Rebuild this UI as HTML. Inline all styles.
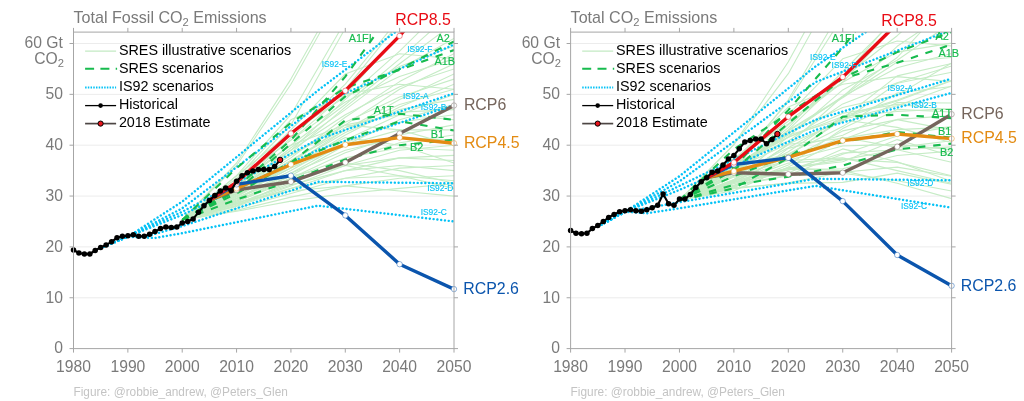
<!DOCTYPE html>
<html><head><meta charset="utf-8"><title>CO2 Emissions scenarios</title>
<style>
html,body{margin:0;padding:0;background:#fff;}
body{width:1024px;height:401px;overflow:hidden;font-family:"Liberation Sans",sans-serif;}
svg{display:block;will-change:transform;font-family:"Liberation Sans",sans-serif;}
</style></head><body>
<svg width="1024" height="401" viewBox="0 0 1024 401">
<rect width="1024" height="401" fill="#fff"/>
<clipPath id="clip0"><rect x="73.50" y="32.10" width="380.50" height="316.50"/></clipPath>
<line x1="73.5" x2="454.0" y1="297.8" y2="297.8" stroke="#ececec" stroke-width="1"/>
<line x1="73.5" x2="454.0" y1="246.9" y2="246.9" stroke="#ececec" stroke-width="1"/>
<line x1="73.5" x2="454.0" y1="196.1" y2="196.1" stroke="#ececec" stroke-width="1"/>
<line x1="73.5" x2="454.0" y1="145.2" y2="145.2" stroke="#ececec" stroke-width="1"/>
<line x1="73.5" x2="454.0" y1="94.4" y2="94.4" stroke="#ececec" stroke-width="1"/>
<line x1="73.5" x2="454.0" y1="43.5" y2="43.5" stroke="#ececec" stroke-width="1"/>
<g clip-path="url(#clip0)" fill="none" stroke-linejoin="round">
<path d="M182.2 219.9 L236.6 163.0 L290.9 79.1 L345.3 -17.5 L399.6 -98.9 L454.0 -159.9" stroke="#c6ecc6" stroke-width="1.1"/>
<path d="M182.2 219.9 L236.6 165.5 L290.9 84.2 L345.3 -12.4 L399.6 -109.0 L454.0 -185.3" stroke="#c6ecc6" stroke-width="1.1"/>
<path d="M182.2 219.9 L236.6 175.7 L290.9 114.7 L345.3 21.1 L399.6 -83.6 L454.0 -159.9" stroke="#c6ecc6" stroke-width="1.1"/>
<path d="M182.2 219.9 L236.6 180.8 L290.9 124.9 L345.3 28.2 L399.6 -58.2 L454.0 -134.5" stroke="#c6ecc6" stroke-width="1.1"/>
<path d="M182.2 219.9 L236.6 185.9 L290.9 135.0 L345.3 84.2 L399.6 18.1 L454.0 -48.0" stroke="#c6ecc6" stroke-width="1.1"/>
<path d="M182.2 219.9 L236.6 188.4 L290.9 137.6 L345.3 89.3 L399.6 22.1 L454.0 -37.9" stroke="#c6ecc6" stroke-width="1.1"/>
<path d="M182.2 219.9 L236.6 180.8 L290.9 140.1 L345.3 94.4 L399.6 35.9 L454.0 -7.3" stroke="#c6ecc6" stroke-width="1.1"/>
<path d="M182.2 219.9 L236.6 191.0 L290.9 150.3 L345.3 99.4 L399.6 51.1 L454.0 -2.3" stroke="#c6ecc6" stroke-width="1.1"/>
<path d="M182.2 219.9 L236.6 183.3 L290.9 145.2 L345.3 104.5 L399.6 58.8 L454.0 10.4" stroke="#c6ecc6" stroke-width="1.1"/>
<path d="M182.2 219.9 L236.6 193.5 L290.9 152.8 L345.3 107.1 L399.6 63.8 L454.0 23.2" stroke="#c6ecc6" stroke-width="1.1"/>
<path d="M182.2 219.9 L236.6 189.9 L290.9 147.7 L345.3 109.6 L399.6 68.9 L454.0 38.4" stroke="#c6ecc6" stroke-width="1.1"/>
<path d="M182.2 219.9 L236.6 175.7 L290.9 132.5 L345.3 96.9 L399.6 66.4 L454.0 46.0" stroke="#c6ecc6" stroke-width="1.1"/>
<path d="M182.2 219.9 L236.6 192.0 L290.9 157.9 L345.3 117.2 L399.6 81.6 L454.0 53.7" stroke="#c6ecc6" stroke-width="1.1"/>
<path d="M182.2 219.9 L236.6 180.8 L290.9 140.1 L345.3 102.0 L399.6 76.6 L454.0 58.8" stroke="#c6ecc6" stroke-width="1.1"/>
<path d="M182.2 219.9 L236.6 196.1 L290.9 163.0 L345.3 124.9 L399.6 89.3 L454.0 63.8" stroke="#c6ecc6" stroke-width="1.1"/>
<path d="M182.2 219.9 L236.6 185.9 L290.9 150.3 L345.3 114.7 L399.6 86.7 L454.0 68.9" stroke="#c6ecc6" stroke-width="1.1"/>
<path d="M182.2 219.9 L236.6 197.1 L290.9 165.5 L345.3 129.9 L399.6 99.4 L454.0 74.0" stroke="#c6ecc6" stroke-width="1.1"/>
<path d="M182.2 219.9 L236.6 188.4 L290.9 155.4 L345.3 122.3 L399.6 96.9 L454.0 79.1" stroke="#c6ecc6" stroke-width="1.1"/>
<path d="M182.2 219.9 L236.6 195.0 L290.9 168.1 L345.3 135.0 L399.6 107.1 L454.0 84.2" stroke="#c6ecc6" stroke-width="1.1"/>
<path d="M182.2 219.9 L236.6 191.0 L290.9 160.5 L345.3 129.9 L399.6 104.5 L454.0 89.3" stroke="#c6ecc6" stroke-width="1.1"/>
<path d="M182.2 219.9 L236.6 198.6 L290.9 170.6 L345.3 140.1 L399.6 114.7 L454.0 94.4" stroke="#c6ecc6" stroke-width="1.1"/>
<path d="M182.2 219.9 L236.6 193.0 L290.9 164.5 L345.3 132.5 L399.6 109.6 L454.0 99.4" stroke="#c6ecc6" stroke-width="1.1"/>
<path d="M182.2 219.9 L236.6 201.1 L290.9 175.7 L345.3 145.2 L399.6 119.8 L454.0 104.5" stroke="#c6ecc6" stroke-width="1.1"/>
<path d="M182.2 219.9 L236.6 194.0 L290.9 160.5 L345.3 127.4 L399.6 112.1 L454.0 109.6" stroke="#c6ecc6" stroke-width="1.1"/>
<path d="M182.2 219.9 L236.6 199.1 L290.9 173.2 L345.3 142.7 L399.6 122.3 L454.0 114.7" stroke="#c6ecc6" stroke-width="1.1"/>
<path d="M182.2 219.9 L236.6 188.9 L290.9 155.4 L345.3 124.9 L399.6 114.7 L454.0 119.8" stroke="#c6ecc6" stroke-width="1.1"/>
<path d="M182.2 219.9 L236.6 202.2 L290.9 178.3 L345.3 152.8 L399.6 135.0 L454.0 124.9" stroke="#c6ecc6" stroke-width="1.1"/>
<path d="M182.2 219.9 L236.6 196.1 L290.9 168.1 L345.3 145.2 L399.6 129.9 L454.0 129.9" stroke="#c6ecc6" stroke-width="1.1"/>
<path d="M182.2 219.9 L236.6 203.7 L290.9 183.3 L345.3 160.5 L399.6 142.7 L454.0 135.0" stroke="#c6ecc6" stroke-width="1.1"/>
<path d="M182.2 219.9 L236.6 198.1 L290.9 173.2 L345.3 150.3 L399.6 137.6 L454.0 140.1" stroke="#c6ecc6" stroke-width="1.1"/>
<path d="M182.2 219.9 L236.6 205.2 L290.9 185.9 L345.3 165.5 L399.6 150.3 L454.0 145.2" stroke="#c6ecc6" stroke-width="1.1"/>
<path d="M182.2 219.9 L236.6 200.1 L290.9 178.3 L345.3 157.9 L399.6 147.7 L454.0 150.3" stroke="#c6ecc6" stroke-width="1.1"/>
<path d="M182.2 219.9 L236.6 206.2 L290.9 188.4 L345.3 170.6 L399.6 157.9 L454.0 155.4" stroke="#c6ecc6" stroke-width="1.1"/>
<path d="M182.2 219.9 L236.6 201.1 L290.9 180.8 L345.3 165.5 L399.6 157.9 L454.0 160.5" stroke="#c6ecc6" stroke-width="1.1"/>
<path d="M182.2 219.9 L236.6 208.3 L290.9 193.5 L345.3 178.3 L399.6 168.1 L454.0 165.5" stroke="#c6ecc6" stroke-width="1.1"/>
<path d="M182.2 219.9 L236.6 203.2 L290.9 184.9 L345.3 170.6 L399.6 165.5 L454.0 170.6" stroke="#c6ecc6" stroke-width="1.1"/>
<path d="M182.2 219.9 L236.6 210.3 L290.9 197.1 L345.3 185.9 L399.6 178.3 L454.0 175.7" stroke="#c6ecc6" stroke-width="1.1"/>
<path d="M182.2 219.9 L236.6 204.2 L290.9 188.4 L345.3 178.3 L399.6 175.7 L454.0 180.8" stroke="#c6ecc6" stroke-width="1.1"/>
<path d="M182.2 219.9 L236.6 211.3 L290.9 201.1 L345.3 193.5 L399.6 188.4 L454.0 183.8" stroke="#c6ecc6" stroke-width="1.1"/>
<path d="M182.2 219.9 L236.6 206.2 L290.9 180.8 L345.3 163.0 L399.6 170.6 L454.0 183.3" stroke="#c6ecc6" stroke-width="1.1"/>
<path d="M182.2 219.9 L236.6 198.6 L290.9 175.7 L345.3 165.5 L399.6 175.7 L454.0 188.4" stroke="#c6ecc6" stroke-width="1.1"/>
<path d="M182.2 219.9 L236.6 202.2 L290.9 191.0 L345.3 185.9 L399.6 191.0 L454.0 196.1" stroke="#c6ecc6" stroke-width="1.1"/>
<path d="M182.2 219.9 L236.6 193.5 L290.9 165.5 L345.3 137.6 L399.6 145.2 L454.0 163.0" stroke="#c6ecc6" stroke-width="1.1"/>
<path d="M182.2 219.9 L236.6 185.9 L290.9 145.2 L345.3 124.9 L399.6 129.9 L454.0 145.2" stroke="#c6ecc6" stroke-width="1.1"/>
<path d="M182.2 219.9 L236.6 178.3 L290.9 119.8 L345.3 94.4 L399.6 84.2 L454.0 89.3" stroke="#c6ecc6" stroke-width="1.1"/>
<path d="M182.2 219.9 L236.6 183.3 L290.9 129.9 L345.3 74.0 L399.6 53.7 L454.0 58.8" stroke="#c6ecc6" stroke-width="1.1"/>
<path d="M100.7 247.9 L127.9 236.7 L182.2 201.6 L318.1 90.3 L454.0 -12.4" stroke="#04c2f6" stroke-width="2.45" stroke-linecap="round" stroke-dasharray="0.01 3.8"/>
<path d="M100.7 247.9 L127.9 236.7 L182.2 208.3 L318.1 105.5 L454.0 44.5" stroke="#04c2f6" stroke-width="2.45" stroke-linecap="round" stroke-dasharray="0.01 3.8"/>
<path d="M100.7 247.9 L127.9 236.7 L182.2 211.8 L318.1 139.1 L454.0 93.3" stroke="#04c2f6" stroke-width="2.45" stroke-linecap="round" stroke-dasharray="0.01 3.8"/>
<path d="M100.7 247.9 L127.9 236.7 L182.2 214.9 L318.1 149.8 L454.0 105.0" stroke="#04c2f6" stroke-width="2.45" stroke-linecap="round" stroke-dasharray="0.01 3.8"/>
<path d="M100.7 247.9 L127.9 236.7 L146.9 236.2 L182.2 226.1 L318.1 181.8 L454.0 183.3" stroke="#04c2f6" stroke-width="2.45" stroke-linecap="round" stroke-dasharray="0.01 3.8"/>
<path d="M100.7 247.9 L127.9 236.7 L155.0 238.0 L182.2 233.2 L318.1 205.7 L454.0 221.5" stroke="#04c2f6" stroke-width="2.45" stroke-linecap="round" stroke-dasharray="0.01 3.8"/>
<path d="M182.2 219.9 L236.6 187.4 L290.9 140.1 L345.3 76.6 L399.6 0.8 L454.0 -81.6" stroke="#17bb4e" stroke-width="2.1" stroke-dasharray="7.4 7.9"/>
<path d="M182.2 219.9 L236.6 191.0 L290.9 143.7 L345.3 96.4 L399.6 68.9 L454.0 41.5" stroke="#17bb4e" stroke-width="2.1" stroke-dasharray="7.4 7.9"/>
<path d="M182.2 219.9 L236.6 168.1 L290.9 122.8 L345.3 87.7 L399.6 69.9 L454.0 50.1" stroke="#17bb4e" stroke-width="2.1" stroke-dasharray="7.4 7.9"/>
<path d="M182.2 219.9 L236.6 193.5 L290.9 162.5 L345.3 120.3 L399.6 113.7 L454.0 119.8" stroke="#17bb4e" stroke-width="2.1" stroke-dasharray="7.4 7.9"/>
<path d="M182.2 219.9 L236.6 190.5 L290.9 162.5 L345.3 140.1 L399.6 121.3 L454.0 130.5" stroke="#17bb4e" stroke-width="2.1" stroke-dasharray="7.4 7.9"/>
<path d="M182.2 219.9 L236.6 199.6 L290.9 180.8 L345.3 159.4 L399.6 145.2 L454.0 139.6" stroke="#17bb4e" stroke-width="2.1" stroke-dasharray="7.4 7.9"/>
<path d="M209.4 200.1 L236.6 189.9 L290.9 181.8 L345.3 162.5 L399.6 133.5 L454.0 105.5" stroke="#75655c" stroke-width="3.4"/>
<path d="M209.4 200.1 L236.6 188.4 L290.9 164.5 L345.3 144.7 L399.6 137.6 L454.0 143.2" stroke="#e38b12" stroke-width="3.4"/>
<path d="M209.4 200.1 L236.6 184.4 L290.9 175.7 L345.3 215.4 L399.6 264.2 L454.0 289.1" stroke="#0b55ad" stroke-width="3.4"/>
<path d="M209.4 200.1 L236.6 182.3 L290.9 133.5 L345.3 90.8 L399.6 35.9 L454.0 -27.7" stroke="#e90c15" stroke-width="3.4"/>
</g>
<circle cx="236.6" cy="189.9" r="2.7" fill="#fff" stroke="#75655c" stroke-opacity="0.75" stroke-width="0.6"/>
<circle cx="290.9" cy="181.8" r="2.7" fill="#fff" stroke="#75655c" stroke-opacity="0.75" stroke-width="0.6"/>
<circle cx="345.3" cy="162.5" r="2.7" fill="#fff" stroke="#75655c" stroke-opacity="0.75" stroke-width="0.6"/>
<circle cx="399.6" cy="133.5" r="2.7" fill="#fff" stroke="#75655c" stroke-opacity="0.75" stroke-width="0.6"/>
<circle cx="454.0" cy="105.5" r="2.7" fill="#fff" stroke="#75655c" stroke-opacity="0.75" stroke-width="0.6"/>
<circle cx="236.6" cy="188.4" r="2.7" fill="#fff" stroke="#e38b12" stroke-opacity="0.75" stroke-width="0.6"/>
<circle cx="290.9" cy="164.5" r="2.7" fill="#fff" stroke="#e38b12" stroke-opacity="0.75" stroke-width="0.6"/>
<circle cx="345.3" cy="144.7" r="2.7" fill="#fff" stroke="#e38b12" stroke-opacity="0.75" stroke-width="0.6"/>
<circle cx="399.6" cy="137.6" r="2.7" fill="#fff" stroke="#e38b12" stroke-opacity="0.75" stroke-width="0.6"/>
<circle cx="454.0" cy="143.2" r="2.7" fill="#fff" stroke="#e38b12" stroke-opacity="0.75" stroke-width="0.6"/>
<circle cx="236.6" cy="184.4" r="2.7" fill="#fff" stroke="#0b55ad" stroke-opacity="0.75" stroke-width="0.6"/>
<circle cx="290.9" cy="175.7" r="2.7" fill="#fff" stroke="#0b55ad" stroke-opacity="0.75" stroke-width="0.6"/>
<circle cx="345.3" cy="215.4" r="2.7" fill="#fff" stroke="#0b55ad" stroke-opacity="0.75" stroke-width="0.6"/>
<circle cx="399.6" cy="264.2" r="2.7" fill="#fff" stroke="#0b55ad" stroke-opacity="0.75" stroke-width="0.6"/>
<circle cx="454.0" cy="289.1" r="2.7" fill="#fff" stroke="#0b55ad" stroke-opacity="0.75" stroke-width="0.6"/>
<circle cx="236.6" cy="182.3" r="2.7" fill="#fff" stroke="#e90c15" stroke-opacity="0.75" stroke-width="0.6"/>
<circle cx="290.9" cy="133.5" r="2.7" fill="#fff" stroke="#e90c15" stroke-opacity="0.75" stroke-width="0.6"/>
<circle cx="345.3" cy="90.8" r="2.7" fill="#fff" stroke="#e90c15" stroke-opacity="0.75" stroke-width="0.6"/>
<circle cx="399.6" cy="35.9" r="2.7" fill="#fff" stroke="#e90c15" stroke-opacity="0.75" stroke-width="0.6"/>
<path d="M73.5 250.0 L78.9 253.0 L84.4 254.0 L89.8 254.0 L95.2 250.5 L100.7 247.4 L106.1 244.9 L111.6 241.8 L117.0 237.7 L122.4 236.2 L127.9 235.7 L133.3 234.7 L138.7 236.2 L144.2 236.2 L149.6 234.2 L155.0 231.6 L160.5 228.6 L165.9 227.1 L171.3 227.6 L176.8 227.1 L182.2 223.0 L187.7 221.5 L193.1 218.9 L198.5 212.3 L204.0 205.7 L209.4 200.6 L214.8 195.5 L220.3 191.0 L225.7 187.9 L231.1 190.5 L236.6 181.3 L242.0 175.7 L247.4 172.7 L252.9 171.1 L258.3 169.6 L263.8 169.6 L269.2 169.6 L274.6 166.6 L280.1 159.9" stroke="#000" stroke-width="2.1" fill="none" stroke-linejoin="round"/>
<circle cx="73.5" cy="250.0" r="2.75" fill="#000"/>
<circle cx="78.9" cy="253.0" r="2.75" fill="#000"/>
<circle cx="84.4" cy="254.0" r="2.75" fill="#000"/>
<circle cx="89.8" cy="254.0" r="2.75" fill="#000"/>
<circle cx="95.2" cy="250.5" r="2.75" fill="#000"/>
<circle cx="100.7" cy="247.4" r="2.75" fill="#000"/>
<circle cx="106.1" cy="244.9" r="2.75" fill="#000"/>
<circle cx="111.6" cy="241.8" r="2.75" fill="#000"/>
<circle cx="117.0" cy="237.7" r="2.75" fill="#000"/>
<circle cx="122.4" cy="236.2" r="2.75" fill="#000"/>
<circle cx="127.9" cy="235.7" r="2.75" fill="#000"/>
<circle cx="133.3" cy="234.7" r="2.75" fill="#000"/>
<circle cx="138.7" cy="236.2" r="2.75" fill="#000"/>
<circle cx="144.2" cy="236.2" r="2.75" fill="#000"/>
<circle cx="149.6" cy="234.2" r="2.75" fill="#000"/>
<circle cx="155.0" cy="231.6" r="2.75" fill="#000"/>
<circle cx="160.5" cy="228.6" r="2.75" fill="#000"/>
<circle cx="165.9" cy="227.1" r="2.75" fill="#000"/>
<circle cx="171.3" cy="227.6" r="2.75" fill="#000"/>
<circle cx="176.8" cy="227.1" r="2.75" fill="#000"/>
<circle cx="182.2" cy="223.0" r="2.75" fill="#000"/>
<circle cx="187.7" cy="221.5" r="2.75" fill="#000"/>
<circle cx="193.1" cy="218.9" r="2.75" fill="#000"/>
<circle cx="198.5" cy="212.3" r="2.75" fill="#000"/>
<circle cx="204.0" cy="205.7" r="2.75" fill="#000"/>
<circle cx="209.4" cy="200.6" r="2.75" fill="#000"/>
<circle cx="214.8" cy="195.5" r="2.75" fill="#000"/>
<circle cx="220.3" cy="191.0" r="2.75" fill="#000"/>
<circle cx="225.7" cy="187.9" r="2.75" fill="#000"/>
<circle cx="231.1" cy="190.5" r="2.75" fill="#000"/>
<circle cx="236.6" cy="181.3" r="2.75" fill="#000"/>
<circle cx="242.0" cy="175.7" r="2.75" fill="#000"/>
<circle cx="247.4" cy="172.7" r="2.75" fill="#000"/>
<circle cx="252.9" cy="171.1" r="2.75" fill="#000"/>
<circle cx="258.3" cy="169.6" r="2.75" fill="#000"/>
<circle cx="263.8" cy="169.6" r="2.75" fill="#000"/>
<circle cx="269.2" cy="169.6" r="2.75" fill="#000"/>
<circle cx="274.6" cy="166.6" r="2.75" fill="#000"/>
<circle cx="280.1" cy="159.9" r="2.7" fill="#e8141c" stroke="#000" stroke-width="1"/>
<g stroke="#a6a6a6" stroke-width="1" fill="none">
<rect x="73.50" y="32.10" width="380.50" height="316.50"/>
<line x1="73.50" x2="73.50" y1="348.60" y2="352.60"/>
<line x1="73.50" x2="73.50" y1="32.10" y2="27.90"/>
<line x1="127.86" x2="127.86" y1="348.60" y2="352.60"/>
<line x1="127.86" x2="127.86" y1="32.10" y2="27.90"/>
<line x1="182.21" x2="182.21" y1="348.60" y2="352.60"/>
<line x1="182.21" x2="182.21" y1="32.10" y2="27.90"/>
<line x1="236.57" x2="236.57" y1="348.60" y2="352.60"/>
<line x1="236.57" x2="236.57" y1="32.10" y2="27.90"/>
<line x1="290.93" x2="290.93" y1="348.60" y2="352.60"/>
<line x1="290.93" x2="290.93" y1="32.10" y2="27.90"/>
<line x1="345.29" x2="345.29" y1="348.60" y2="352.60"/>
<line x1="345.29" x2="345.29" y1="32.10" y2="27.90"/>
<line x1="399.64" x2="399.64" y1="348.60" y2="352.60"/>
<line x1="399.64" x2="399.64" y1="32.10" y2="27.90"/>
<line x1="454.00" x2="454.00" y1="348.60" y2="352.60"/>
<line x1="454.00" x2="454.00" y1="32.10" y2="27.90"/>
<line x1="69.50" x2="73.50" y1="348.60" y2="348.60"/>
<line x1="454.00" x2="458.00" y1="348.60" y2="348.60"/>
<line x1="69.50" x2="73.50" y1="297.75" y2="297.75"/>
<line x1="454.00" x2="458.00" y1="297.75" y2="297.75"/>
<line x1="69.50" x2="73.50" y1="246.90" y2="246.90"/>
<line x1="454.00" x2="458.00" y1="246.90" y2="246.90"/>
<line x1="69.50" x2="73.50" y1="196.05" y2="196.05"/>
<line x1="454.00" x2="458.00" y1="196.05" y2="196.05"/>
<line x1="69.50" x2="73.50" y1="145.20" y2="145.20"/>
<line x1="454.00" x2="458.00" y1="145.20" y2="145.20"/>
<line x1="69.50" x2="73.50" y1="94.35" y2="94.35"/>
<line x1="454.00" x2="458.00" y1="94.35" y2="94.35"/>
<line x1="69.50" x2="73.50" y1="43.50" y2="43.50"/>
<line x1="454.00" x2="458.00" y1="43.50" y2="43.50"/>
</g>
<g fill="#7a7a7a" font-size="15.7">
<text x="73.5" y="371.8" text-anchor="middle">1980</text>
<text x="127.9" y="371.8" text-anchor="middle">1990</text>
<text x="182.2" y="371.8" text-anchor="middle">2000</text>
<text x="236.6" y="371.8" text-anchor="middle">2010</text>
<text x="290.9" y="371.8" text-anchor="middle">2020</text>
<text x="345.3" y="371.8" text-anchor="middle">2030</text>
<text x="399.6" y="371.8" text-anchor="middle">2040</text>
<text x="454.0" y="371.8" text-anchor="middle">2050</text>
<text x="62.9" y="353.4" text-anchor="end">0</text>
<text x="62.9" y="302.6" text-anchor="end">10</text>
<text x="62.9" y="251.7" text-anchor="end">20</text>
<text x="62.9" y="200.9" text-anchor="end">30</text>
<text x="62.9" y="150.0" text-anchor="end">40</text>
<text x="62.9" y="99.2" text-anchor="end">50</text>
<text x="62.9" y="48.1" text-anchor="end">60 Gt</text>
<text x="63.9" y="64.3" text-anchor="end">CO<tspan font-size="11.2" dy="2.9">2</tspan></text>
<text x="73.5" y="23" font-size="16.1">Total Fossil CO<tspan font-size="11.2" dy="2.9">2</tspan><tspan dy="-2.9"> Emissions</tspan></text>
</g>
<text x="73.5" y="395.5" font-size="11.85" fill="#c4c4c4">Figure: @robbie_andrew, @Peters_Glen</text>
<line x1="85.1" x2="116.1" y1="51.1" y2="51.1" stroke="#b4e4b4" stroke-width="1"/>
<line x1="85.1" x2="117.1" y1="68.8" y2="68.8" stroke="#17bb4e" stroke-width="2" stroke-dasharray="9 6.3"/>
<line x1="85.1" x2="116.1" y1="87.5" y2="87.5" stroke="#04c2f6" stroke-width="1.8" stroke-dasharray="1.5 1.22"/>
<line x1="85.1" x2="116.1" y1="105.6" y2="105.6" stroke="#000" stroke-width="1.3"/>
<circle cx="100.6" cy="105.6" r="2.3" fill="#000"/>
<line x1="85.1" x2="116.1" y1="123.6" y2="123.6" stroke="#4d4644" stroke-width="1.7"/>
<circle cx="100.6" cy="123.6" r="2.6" fill="#e8141c" stroke="#000" stroke-width="1"/>
<g fill="#000" font-size="14.35">
<text x="118.9" y="55.1">SRES illustrative scenarios</text>
<text x="118.9" y="73.1">SRES scenarios</text>
<text x="118.9" y="91.0">IS92 scenarios</text>
<text x="118.9" y="108.9">Historical</text>
<text x="118.9" y="126.9">2018 Estimate</text>
</g>
<g font-size="10.9" fill="#17bb4e" stroke="#17bb4e" stroke-width="0.15">
<text x="348.7" y="41.8">A1FI</text>
<text x="436.5" y="41.8">A2</text>
<text x="434.5" y="65.4">A1B</text>
<text x="373.8" y="114.2">A1T</text>
<text x="430.7" y="137.6">B1</text>
<text x="410.1" y="151.2">B2</text>
</g><g font-size="8.4" fill="#04c2f6" stroke="#04c2f6" stroke-width="0.12">
<text x="321.7" y="67.2">IS92-E</text>
<text x="407.3" y="52.3">IS92-F</text>
<text x="403.0" y="98.8">IS92-A</text>
<text x="420.8" y="110.4">IS92-B</text>
<text x="427.2" y="190.6">IS92-D</text>
<text x="420.7" y="214.5">IS92-C</text>
</g>
<g font-size="15.9">
<text x="395.2" y="25.4" fill="#e90c15">RCP8.5</text>
<text x="463.9" y="110.3" fill="#75655c">RCP6</text>
<text x="463.9" y="147.6" fill="#e38b12">RCP4.5</text>
<text x="463.3" y="294.3" fill="#0b55ad">RCP2.6</text>
</g>
<clipPath id="clip1"><rect x="570.60" y="32.10" width="381.00" height="316.50"/></clipPath>
<line x1="570.6" x2="951.6" y1="297.8" y2="297.8" stroke="#ececec" stroke-width="1"/>
<line x1="570.6" x2="951.6" y1="246.9" y2="246.9" stroke="#ececec" stroke-width="1"/>
<line x1="570.6" x2="951.6" y1="196.1" y2="196.1" stroke="#ececec" stroke-width="1"/>
<line x1="570.6" x2="951.6" y1="145.2" y2="145.2" stroke="#ececec" stroke-width="1"/>
<line x1="570.6" x2="951.6" y1="94.4" y2="94.4" stroke="#ececec" stroke-width="1"/>
<line x1="570.6" x2="951.6" y1="43.5" y2="43.5" stroke="#ececec" stroke-width="1"/>
<g clip-path="url(#clip1)" fill="none" stroke-linejoin="round">
<path d="M679.5 200.1 L733.9 144.5 L788.3 61.7 L842.7 -37.5 L897.2 -107.4 L951.6 -167.2" stroke="#c6ecc6" stroke-width="1.1"/>
<path d="M679.5 200.1 L733.9 144.6 L788.3 73.7 L842.7 -24.9 L897.2 -120.6 L951.6 -197.8" stroke="#c6ecc6" stroke-width="1.1"/>
<path d="M679.5 200.1 L733.9 163.8 L788.3 102.0 L842.7 16.4 L897.2 -98.4 L951.6 -170.6" stroke="#c6ecc6" stroke-width="1.1"/>
<path d="M679.5 200.1 L733.9 169.9 L788.3 99.8 L842.7 7.5 L897.2 -70.2 L951.6 -143.7" stroke="#c6ecc6" stroke-width="1.1"/>
<path d="M679.5 200.1 L733.9 172.8 L788.3 127.6 L842.7 71.5 L897.2 17.0 L951.6 -49.5" stroke="#c6ecc6" stroke-width="1.1"/>
<path d="M679.5 200.1 L733.9 173.8 L788.3 129.9 L842.7 77.7 L897.2 14.1 L951.6 -51.2" stroke="#c6ecc6" stroke-width="1.1"/>
<path d="M679.5 200.1 L733.9 161.1 L788.3 121.3 L842.7 82.2 L897.2 23.7 L951.6 -13.7" stroke="#c6ecc6" stroke-width="1.1"/>
<path d="M679.5 200.1 L733.9 175.7 L788.3 124.9 L842.7 78.2 L897.2 35.7 L951.6 -13.2" stroke="#c6ecc6" stroke-width="1.1"/>
<path d="M679.5 200.1 L733.9 167.4 L788.3 133.9 L842.7 96.2 L897.2 57.5 L951.6 -1.5" stroke="#c6ecc6" stroke-width="1.1"/>
<path d="M679.5 200.1 L733.9 176.0 L788.3 130.2 L842.7 96.9 L897.2 46.3 L951.6 9.7" stroke="#c6ecc6" stroke-width="1.1"/>
<path d="M679.5 200.1 L733.9 179.8 L788.3 136.8 L842.7 89.9 L897.2 60.3 L951.6 22.5" stroke="#c6ecc6" stroke-width="1.1"/>
<path d="M679.5 200.1 L733.9 158.3 L788.3 124.0 L842.7 82.3 L897.2 52.1 L951.6 43.1" stroke="#c6ecc6" stroke-width="1.1"/>
<path d="M679.5 200.1 L733.9 180.2 L788.3 144.7 L842.7 96.5 L897.2 67.8 L951.6 53.5" stroke="#c6ecc6" stroke-width="1.1"/>
<path d="M679.5 200.1 L733.9 166.1 L788.3 131.1 L842.7 97.8 L897.2 62.0 L951.6 57.5" stroke="#c6ecc6" stroke-width="1.1"/>
<path d="M679.5 200.1 L733.9 175.6 L788.3 147.7 L842.7 118.3 L897.2 75.9 L951.6 63.5" stroke="#c6ecc6" stroke-width="1.1"/>
<path d="M679.5 200.1 L733.9 163.9 L788.3 141.0 L842.7 103.9 L897.2 82.8 L951.6 66.0" stroke="#c6ecc6" stroke-width="1.1"/>
<path d="M679.5 200.1 L733.9 169.1 L788.3 143.7 L842.7 121.3 L897.2 83.2 L951.6 72.2" stroke="#c6ecc6" stroke-width="1.1"/>
<path d="M679.5 200.1 L733.9 171.0 L788.3 132.6 L842.7 107.5 L897.2 95.1 L951.6 63.0" stroke="#c6ecc6" stroke-width="1.1"/>
<path d="M679.5 200.1 L733.9 181.0 L788.3 156.2 L842.7 117.8 L897.2 101.0 L951.6 80.8" stroke="#c6ecc6" stroke-width="1.1"/>
<path d="M679.5 200.1 L733.9 179.5 L788.3 151.7 L842.7 116.2 L897.2 100.1 L951.6 80.3" stroke="#c6ecc6" stroke-width="1.1"/>
<path d="M679.5 200.1 L733.9 181.6 L788.3 155.2 L842.7 119.5 L897.2 105.8 L951.6 85.9" stroke="#c6ecc6" stroke-width="1.1"/>
<path d="M679.5 200.1 L733.9 167.0 L788.3 154.1 L842.7 126.6 L897.2 93.0 L951.6 86.5" stroke="#c6ecc6" stroke-width="1.1"/>
<path d="M679.5 200.1 L733.9 186.4 L788.3 165.1 L842.7 128.6 L897.2 102.6 L951.6 103.0" stroke="#c6ecc6" stroke-width="1.1"/>
<path d="M679.5 200.1 L733.9 166.5 L788.3 137.2 L842.7 113.3 L897.2 104.4 L951.6 109.7" stroke="#c6ecc6" stroke-width="1.1"/>
<path d="M679.5 200.1 L733.9 188.2 L788.3 148.4 L842.7 135.2 L897.2 109.4 L951.6 112.0" stroke="#c6ecc6" stroke-width="1.1"/>
<path d="M679.5 200.1 L733.9 163.7 L788.3 137.3 L842.7 116.4 L897.2 111.5 L951.6 108.6" stroke="#c6ecc6" stroke-width="1.1"/>
<path d="M679.5 200.1 L733.9 190.7 L788.3 167.0 L842.7 139.5 L897.2 119.4 L951.6 115.6" stroke="#c6ecc6" stroke-width="1.1"/>
<path d="M679.5 200.1 L733.9 180.8 L788.3 144.2 L842.7 138.4 L897.2 129.6 L951.6 127.1" stroke="#c6ecc6" stroke-width="1.1"/>
<path d="M679.5 200.1 L733.9 185.3 L788.3 175.1 L842.7 154.2 L897.2 135.9 L951.6 126.6" stroke="#c6ecc6" stroke-width="1.1"/>
<path d="M679.5 200.1 L733.9 185.5 L788.3 159.4 L842.7 130.9 L897.2 119.6 L951.6 130.1" stroke="#c6ecc6" stroke-width="1.1"/>
<path d="M679.5 200.1 L733.9 182.4 L788.3 168.1 L842.7 159.9 L897.2 149.6 L951.6 146.9" stroke="#c6ecc6" stroke-width="1.1"/>
<path d="M679.5 200.1 L733.9 173.3 L788.3 158.3 L842.7 137.2 L897.2 147.4 L951.6 140.7" stroke="#c6ecc6" stroke-width="1.1"/>
<path d="M679.5 200.1 L733.9 187.2 L788.3 167.9 L842.7 161.7 L897.2 139.6 L951.6 156.0" stroke="#c6ecc6" stroke-width="1.1"/>
<path d="M679.5 200.1 L733.9 181.0 L788.3 160.2 L842.7 146.0 L897.2 144.4 L951.6 149.6" stroke="#c6ecc6" stroke-width="1.1"/>
<path d="M679.5 200.1 L733.9 183.6 L788.3 169.6 L842.7 168.8 L897.2 155.5 L951.6 151.1" stroke="#c6ecc6" stroke-width="1.1"/>
<path d="M679.5 200.1 L733.9 177.1 L788.3 170.1 L842.7 153.1 L897.2 149.7 L951.6 162.2" stroke="#c6ecc6" stroke-width="1.1"/>
<path d="M679.5 200.1 L733.9 188.7 L788.3 182.9 L842.7 172.2 L897.2 167.1 L951.6 176.3" stroke="#c6ecc6" stroke-width="1.1"/>
<path d="M679.5 200.1 L733.9 182.3 L788.3 163.1 L842.7 159.1 L897.2 162.4 L951.6 175.7" stroke="#c6ecc6" stroke-width="1.1"/>
<path d="M679.5 200.1 L733.9 187.7 L788.3 183.4 L842.7 182.4 L897.2 173.1 L951.6 184.3" stroke="#c6ecc6" stroke-width="1.1"/>
<path d="M679.5 200.1 L733.9 182.3 L788.3 173.1 L842.7 148.9 L897.2 161.8 L951.6 181.2" stroke="#c6ecc6" stroke-width="1.1"/>
<path d="M679.5 200.1 L733.9 180.8 L788.3 168.1 L842.7 170.6 L897.2 183.3 L951.6 198.6" stroke="#c6ecc6" stroke-width="1.1"/>
<path d="M679.5 200.1 L733.9 185.9 L788.3 175.7 L842.7 173.2 L897.2 180.8 L951.6 191.0" stroke="#c6ecc6" stroke-width="1.1"/>
<path d="M679.5 200.1 L733.9 175.7 L788.3 160.5 L842.7 157.9 L897.2 170.6 L951.6 183.3" stroke="#c6ecc6" stroke-width="1.1"/>
<path d="M679.5 200.1 L733.9 168.1 L788.3 135.0 L842.7 119.8 L897.2 127.4 L951.6 142.7" stroke="#c6ecc6" stroke-width="1.1"/>
<path d="M679.5 200.1 L733.9 160.5 L788.3 107.1 L842.7 84.2 L897.2 76.6 L951.6 81.6" stroke="#c6ecc6" stroke-width="1.1"/>
<path d="M679.5 200.1 L733.9 165.5 L788.3 114.7 L842.7 58.8 L897.2 41.0 L951.6 46.0" stroke="#c6ecc6" stroke-width="1.1"/>
<path d="M597.8 226.6 L625.0 211.8 L679.5 176.2 L815.5 66.4 L951.6 -26.7" stroke="#04c2f6" stroke-width="2.45" stroke-linecap="round" stroke-dasharray="0.01 3.8"/>
<path d="M597.8 226.6 L625.0 211.8 L679.5 181.3 L815.5 82.1 L951.6 29.8" stroke="#04c2f6" stroke-width="2.45" stroke-linecap="round" stroke-dasharray="0.01 3.8"/>
<path d="M597.8 226.6 L625.0 211.8 L679.5 185.9 L815.5 119.8 L951.6 78.6" stroke="#04c2f6" stroke-width="2.45" stroke-linecap="round" stroke-dasharray="0.01 3.8"/>
<path d="M597.8 226.6 L625.0 211.8 L679.5 189.9 L815.5 129.9 L951.6 92.8" stroke="#04c2f6" stroke-width="2.45" stroke-linecap="round" stroke-dasharray="0.01 3.8"/>
<path d="M597.8 226.6 L625.0 211.8 L657.7 206.2 L679.5 202.2 L815.5 178.8 L951.6 180.3" stroke="#04c2f6" stroke-width="2.45" stroke-linecap="round" stroke-dasharray="0.01 3.8"/>
<path d="M597.8 226.6 L625.0 211.8 L646.8 213.3 L679.5 208.3 L815.5 185.9 L951.6 207.7" stroke="#04c2f6" stroke-width="2.45" stroke-linecap="round" stroke-dasharray="0.01 3.8"/>
<path d="M679.5 200.1 L733.9 167.1 L788.3 110.1 L842.7 47.6 L897.2 -23.1 L951.6 -96.8" stroke="#17bb4e" stroke-width="2.1" stroke-dasharray="7.4 7.9"/>
<path d="M679.5 200.1 L733.9 170.1 L788.3 123.3 L842.7 78.1 L897.2 52.1 L951.6 31.8" stroke="#17bb4e" stroke-width="2.1" stroke-dasharray="7.4 7.9"/>
<path d="M679.5 200.1 L733.9 149.3 L788.3 113.2 L842.7 78.6 L897.2 62.8 L951.6 44.5" stroke="#17bb4e" stroke-width="2.1" stroke-dasharray="7.4 7.9"/>
<path d="M679.5 200.1 L733.9 188.4 L788.3 157.9 L842.7 116.7 L897.2 114.7 L951.6 118.2" stroke="#17bb4e" stroke-width="2.1" stroke-dasharray="7.4 7.9"/>
<path d="M679.5 200.1 L733.9 176.2 L788.3 155.4 L842.7 142.1 L897.2 132.0 L951.6 137.6" stroke="#17bb4e" stroke-width="2.1" stroke-dasharray="7.4 7.9"/>
<path d="M679.5 200.1 L733.9 184.9 L788.3 176.7 L842.7 165.5 L897.2 149.3 L951.6 143.7" stroke="#17bb4e" stroke-width="2.1" stroke-dasharray="7.4 7.9"/>
<path d="M706.7 177.7 L733.9 172.7 L788.3 174.2 L842.7 172.7 L897.2 146.7 L951.6 114.2" stroke="#75655c" stroke-width="3.4"/>
<path d="M706.7 177.7 L733.9 171.1 L788.3 157.4 L842.7 140.6 L897.2 134.0 L951.6 138.6" stroke="#e38b12" stroke-width="3.4"/>
<path d="M706.7 177.7 L733.9 164.5 L788.3 157.9 L842.7 201.1 L897.2 255.0 L951.6 285.8" stroke="#0b55ad" stroke-width="3.4"/>
<path d="M706.7 177.7 L733.9 162.5 L788.3 116.7 L842.7 77.1 L897.2 23.7 L951.6 -38.9" stroke="#e90c15" stroke-width="3.4"/>
</g>
<circle cx="733.9" cy="172.7" r="2.7" fill="#fff" stroke="#75655c" stroke-opacity="0.75" stroke-width="0.6"/>
<circle cx="788.3" cy="174.2" r="2.7" fill="#fff" stroke="#75655c" stroke-opacity="0.75" stroke-width="0.6"/>
<circle cx="842.7" cy="172.7" r="2.7" fill="#fff" stroke="#75655c" stroke-opacity="0.75" stroke-width="0.6"/>
<circle cx="897.2" cy="146.7" r="2.7" fill="#fff" stroke="#75655c" stroke-opacity="0.75" stroke-width="0.6"/>
<circle cx="951.6" cy="114.2" r="2.7" fill="#fff" stroke="#75655c" stroke-opacity="0.75" stroke-width="0.6"/>
<circle cx="733.9" cy="171.1" r="2.7" fill="#fff" stroke="#e38b12" stroke-opacity="0.75" stroke-width="0.6"/>
<circle cx="788.3" cy="157.4" r="2.7" fill="#fff" stroke="#e38b12" stroke-opacity="0.75" stroke-width="0.6"/>
<circle cx="842.7" cy="140.6" r="2.7" fill="#fff" stroke="#e38b12" stroke-opacity="0.75" stroke-width="0.6"/>
<circle cx="897.2" cy="134.0" r="2.7" fill="#fff" stroke="#e38b12" stroke-opacity="0.75" stroke-width="0.6"/>
<circle cx="951.6" cy="138.6" r="2.7" fill="#fff" stroke="#e38b12" stroke-opacity="0.75" stroke-width="0.6"/>
<circle cx="733.9" cy="164.5" r="2.7" fill="#fff" stroke="#0b55ad" stroke-opacity="0.75" stroke-width="0.6"/>
<circle cx="788.3" cy="157.9" r="2.7" fill="#fff" stroke="#0b55ad" stroke-opacity="0.75" stroke-width="0.6"/>
<circle cx="842.7" cy="201.1" r="2.7" fill="#fff" stroke="#0b55ad" stroke-opacity="0.75" stroke-width="0.6"/>
<circle cx="897.2" cy="255.0" r="2.7" fill="#fff" stroke="#0b55ad" stroke-opacity="0.75" stroke-width="0.6"/>
<circle cx="951.6" cy="285.8" r="2.7" fill="#fff" stroke="#0b55ad" stroke-opacity="0.75" stroke-width="0.6"/>
<circle cx="733.9" cy="162.5" r="2.7" fill="#fff" stroke="#e90c15" stroke-opacity="0.75" stroke-width="0.6"/>
<circle cx="788.3" cy="116.7" r="2.7" fill="#fff" stroke="#e90c15" stroke-opacity="0.75" stroke-width="0.6"/>
<circle cx="842.7" cy="77.1" r="2.7" fill="#fff" stroke="#e90c15" stroke-opacity="0.75" stroke-width="0.6"/>
<path d="M570.6 230.6 L576.0 233.2 L581.5 233.7 L586.9 233.2 L592.4 228.6 L597.8 225.5 L603.3 221.5 L608.7 217.4 L614.1 214.4 L619.6 211.8 L625.0 210.8 L630.5 209.8 L635.9 210.8 L641.4 211.3 L646.8 209.8 L652.2 207.7 L657.7 205.2 L663.1 194.0 L668.6 203.7 L674.0 205.2 L679.5 199.1 L684.9 199.1 L690.3 194.5 L695.8 187.4 L701.2 181.8 L706.7 177.7 L712.1 172.2 L717.6 171.1 L723.0 165.0 L728.4 158.9 L733.9 155.4 L739.3 148.8 L744.8 142.1 L750.2 140.6 L755.7 139.1 L761.1 139.1 L766.5 143.7 L772.0 139.6 L777.4 134.0" stroke="#000" stroke-width="2.1" fill="none" stroke-linejoin="round"/>
<circle cx="570.6" cy="230.6" r="2.75" fill="#000"/>
<circle cx="576.0" cy="233.2" r="2.75" fill="#000"/>
<circle cx="581.5" cy="233.7" r="2.75" fill="#000"/>
<circle cx="586.9" cy="233.2" r="2.75" fill="#000"/>
<circle cx="592.4" cy="228.6" r="2.75" fill="#000"/>
<circle cx="597.8" cy="225.5" r="2.75" fill="#000"/>
<circle cx="603.3" cy="221.5" r="2.75" fill="#000"/>
<circle cx="608.7" cy="217.4" r="2.75" fill="#000"/>
<circle cx="614.1" cy="214.4" r="2.75" fill="#000"/>
<circle cx="619.6" cy="211.8" r="2.75" fill="#000"/>
<circle cx="625.0" cy="210.8" r="2.75" fill="#000"/>
<circle cx="630.5" cy="209.8" r="2.75" fill="#000"/>
<circle cx="635.9" cy="210.8" r="2.75" fill="#000"/>
<circle cx="641.4" cy="211.3" r="2.75" fill="#000"/>
<circle cx="646.8" cy="209.8" r="2.75" fill="#000"/>
<circle cx="652.2" cy="207.7" r="2.75" fill="#000"/>
<circle cx="657.7" cy="205.2" r="2.75" fill="#000"/>
<circle cx="663.1" cy="194.0" r="2.75" fill="#000"/>
<circle cx="668.6" cy="203.7" r="2.75" fill="#000"/>
<circle cx="674.0" cy="205.2" r="2.75" fill="#000"/>
<circle cx="679.5" cy="199.1" r="2.75" fill="#000"/>
<circle cx="684.9" cy="199.1" r="2.75" fill="#000"/>
<circle cx="690.3" cy="194.5" r="2.75" fill="#000"/>
<circle cx="695.8" cy="187.4" r="2.75" fill="#000"/>
<circle cx="701.2" cy="181.8" r="2.75" fill="#000"/>
<circle cx="706.7" cy="177.7" r="2.75" fill="#000"/>
<circle cx="712.1" cy="172.2" r="2.75" fill="#000"/>
<circle cx="717.6" cy="171.1" r="2.75" fill="#000"/>
<circle cx="723.0" cy="165.0" r="2.75" fill="#000"/>
<circle cx="728.4" cy="158.9" r="2.75" fill="#000"/>
<circle cx="733.9" cy="155.4" r="2.75" fill="#000"/>
<circle cx="739.3" cy="148.8" r="2.75" fill="#000"/>
<circle cx="744.8" cy="142.1" r="2.75" fill="#000"/>
<circle cx="750.2" cy="140.6" r="2.75" fill="#000"/>
<circle cx="755.7" cy="139.1" r="2.75" fill="#000"/>
<circle cx="761.1" cy="139.1" r="2.75" fill="#000"/>
<circle cx="766.5" cy="143.7" r="2.75" fill="#000"/>
<circle cx="772.0" cy="139.6" r="2.75" fill="#000"/>
<circle cx="777.4" cy="134.0" r="2.7" fill="#e8141c" stroke="#000" stroke-width="1"/>
<g stroke="#a6a6a6" stroke-width="1" fill="none">
<rect x="570.60" y="32.10" width="381.00" height="316.50"/>
<line x1="570.60" x2="570.60" y1="348.60" y2="352.60"/>
<line x1="570.60" x2="570.60" y1="32.10" y2="27.90"/>
<line x1="625.03" x2="625.03" y1="348.60" y2="352.60"/>
<line x1="625.03" x2="625.03" y1="32.10" y2="27.90"/>
<line x1="679.46" x2="679.46" y1="348.60" y2="352.60"/>
<line x1="679.46" x2="679.46" y1="32.10" y2="27.90"/>
<line x1="733.89" x2="733.89" y1="348.60" y2="352.60"/>
<line x1="733.89" x2="733.89" y1="32.10" y2="27.90"/>
<line x1="788.31" x2="788.31" y1="348.60" y2="352.60"/>
<line x1="788.31" x2="788.31" y1="32.10" y2="27.90"/>
<line x1="842.74" x2="842.74" y1="348.60" y2="352.60"/>
<line x1="842.74" x2="842.74" y1="32.10" y2="27.90"/>
<line x1="897.17" x2="897.17" y1="348.60" y2="352.60"/>
<line x1="897.17" x2="897.17" y1="32.10" y2="27.90"/>
<line x1="951.60" x2="951.60" y1="348.60" y2="352.60"/>
<line x1="951.60" x2="951.60" y1="32.10" y2="27.90"/>
<line x1="566.60" x2="570.60" y1="348.60" y2="348.60"/>
<line x1="951.60" x2="955.60" y1="348.60" y2="348.60"/>
<line x1="566.60" x2="570.60" y1="297.75" y2="297.75"/>
<line x1="951.60" x2="955.60" y1="297.75" y2="297.75"/>
<line x1="566.60" x2="570.60" y1="246.90" y2="246.90"/>
<line x1="951.60" x2="955.60" y1="246.90" y2="246.90"/>
<line x1="566.60" x2="570.60" y1="196.05" y2="196.05"/>
<line x1="951.60" x2="955.60" y1="196.05" y2="196.05"/>
<line x1="566.60" x2="570.60" y1="145.20" y2="145.20"/>
<line x1="951.60" x2="955.60" y1="145.20" y2="145.20"/>
<line x1="566.60" x2="570.60" y1="94.35" y2="94.35"/>
<line x1="951.60" x2="955.60" y1="94.35" y2="94.35"/>
<line x1="566.60" x2="570.60" y1="43.50" y2="43.50"/>
<line x1="951.60" x2="955.60" y1="43.50" y2="43.50"/>
</g>
<g fill="#7a7a7a" font-size="15.7">
<text x="570.6" y="371.8" text-anchor="middle">1980</text>
<text x="625.0" y="371.8" text-anchor="middle">1990</text>
<text x="679.5" y="371.8" text-anchor="middle">2000</text>
<text x="733.9" y="371.8" text-anchor="middle">2010</text>
<text x="788.3" y="371.8" text-anchor="middle">2020</text>
<text x="842.7" y="371.8" text-anchor="middle">2030</text>
<text x="897.2" y="371.8" text-anchor="middle">2040</text>
<text x="951.6" y="371.8" text-anchor="middle">2050</text>
<text x="560.0" y="353.4" text-anchor="end">0</text>
<text x="560.0" y="302.6" text-anchor="end">10</text>
<text x="560.0" y="251.7" text-anchor="end">20</text>
<text x="560.0" y="200.9" text-anchor="end">30</text>
<text x="560.0" y="150.0" text-anchor="end">40</text>
<text x="560.0" y="99.2" text-anchor="end">50</text>
<text x="560.0" y="48.1" text-anchor="end">60 Gt</text>
<text x="561.0" y="64.3" text-anchor="end">CO<tspan font-size="11.2" dy="2.9">2</tspan></text>
<text x="570.6" y="23" font-size="16.1">Total CO<tspan font-size="11.2" dy="2.9">2</tspan><tspan dy="-2.9"> Emissions</tspan></text>
</g>
<text x="570.6" y="395.5" font-size="11.85" fill="#c4c4c4">Figure: @robbie_andrew, @Peters_Glen</text>
<line x1="582.2" x2="613.2" y1="51.1" y2="51.1" stroke="#b4e4b4" stroke-width="1"/>
<line x1="582.2" x2="614.2" y1="68.8" y2="68.8" stroke="#17bb4e" stroke-width="2" stroke-dasharray="9 6.3"/>
<line x1="582.2" x2="613.2" y1="87.5" y2="87.5" stroke="#04c2f6" stroke-width="1.8" stroke-dasharray="1.5 1.22"/>
<line x1="582.2" x2="613.2" y1="105.6" y2="105.6" stroke="#000" stroke-width="1.3"/>
<circle cx="597.7" cy="105.6" r="2.3" fill="#000"/>
<line x1="582.2" x2="613.2" y1="123.6" y2="123.6" stroke="#4d4644" stroke-width="1.7"/>
<circle cx="597.7" cy="123.6" r="2.6" fill="#e8141c" stroke="#000" stroke-width="1"/>
<g fill="#000" font-size="14.35">
<text x="616.0" y="55.1">SRES illustrative scenarios</text>
<text x="616.0" y="73.1">SRES scenarios</text>
<text x="616.0" y="91.0">IS92 scenarios</text>
<text x="616.0" y="108.9">Historical</text>
<text x="616.0" y="126.9">2018 Estimate</text>
</g>
<g font-size="10.9" fill="#17bb4e" stroke="#17bb4e" stroke-width="0.15">
<text x="831.8" y="42.0">A1FI</text>
<text x="935.5" y="40.4">A2</text>
<text x="938.5" y="56.9">A1B</text>
<text x="932.1" y="116.6">A1T</text>
<text x="938.0" y="135.3">B1</text>
<text x="940.1" y="156.1">B2</text>
</g><g font-size="8.4" fill="#04c2f6" stroke="#04c2f6" stroke-width="0.12">
<text x="810.1" y="59.5">IS92-E</text>
<text x="831.6" y="68.3">IS92-F</text>
<text x="887.5" y="91.4">IS92-A</text>
<text x="911.2" y="107.5">IS92-B</text>
<text x="907.2" y="186.0">IS92-D</text>
<text x="900.9" y="208.6">IS92-C</text>
</g>
<g font-size="15.9">
<text x="881.2" y="26" fill="#e90c15">RCP8.5</text>
<text x="961.2" y="119.2" fill="#75655c">RCP6</text>
<text x="961.2" y="143.0" fill="#e38b12">RCP4.5</text>
<text x="960.8" y="290.8" fill="#0b55ad">RCP2.6</text>
</g>
</svg>
</body></html>
